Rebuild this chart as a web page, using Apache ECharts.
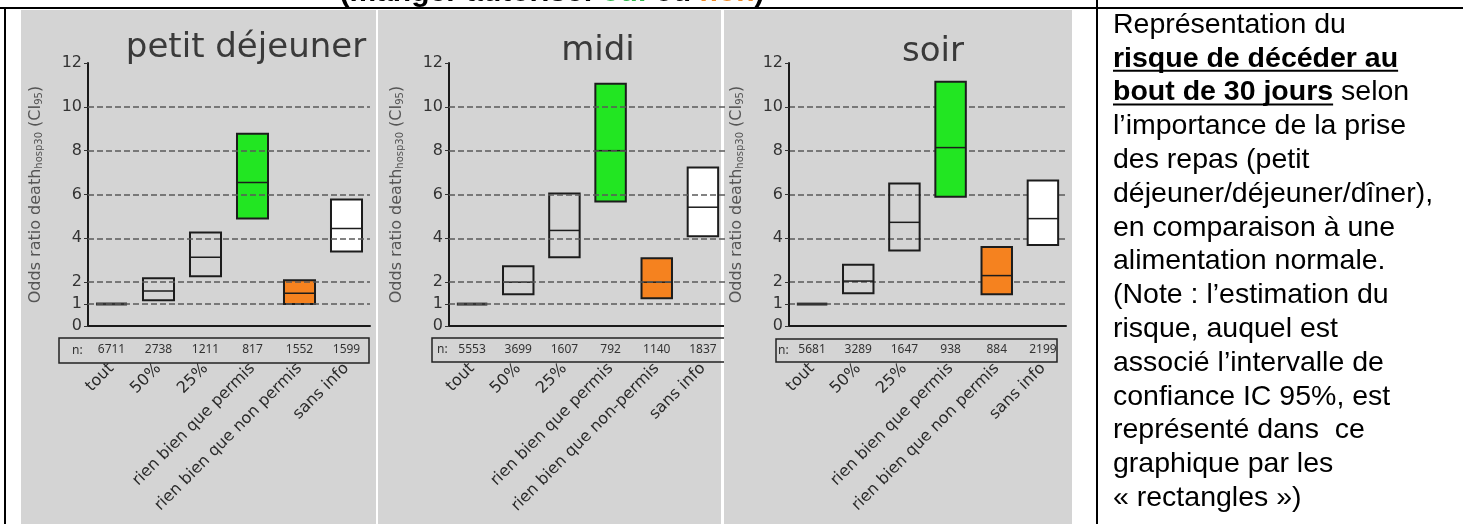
<!DOCTYPE html>
<html>
<head>
<meta charset="utf-8">
<script src="https://cdn.jsdelivr.net/npm/echarts@6/dist/echarts.min.js"></script>
<style>
  html, body { margin: 0; background: #fff; }
  #chart { width: 1463px; height: 524px; }
</style>
</head>
<body>
<div id="chart"></div>
<script>
// données
const titles = ['petit déjeuner', 'midi', 'soir'];
const catsPetit = ['tout', '50%', '25%', 'rien bien que permis', 'rien bien que non permis', 'sans info'];
const catsMidi = ['tout', '50%', '25%', 'rien bien que permis', 'rien bien que non-permis', 'sans info'];
const catsSoir = ['tout', '50%', '25%', 'rien bien que permis', 'rien bien que non permis', 'sans info'];

const nPetit = [6711, 2738, 1211, 817, 1552, 1599];
const nMidi = [5553, 3699, 1607, 792, 1140, 1837];
const nSoir = [5681, 3289, 1647, 938, 884, 2199];

// odds ratio : borne basse, estimation, borne haute (IC 95%)
const lowPetit = [1, 1.18, 2.27, 4.9, 1.0, 3.4];
const medPetit = [1, 1.6, 3.14, 6.55, 1.5, 4.45];
const highPetit = [1, 2.18, 4.27, 8.77, 2.09, 5.77];

const lowMidi = [1, 1.45, 3.14, 5.68, 1.27, 4.1];
const medMidi = [1, 2.0, 4.36, 8.0, 2.0, 5.42];
const highMidi = [1, 2.73, 6.05, 11.05, 3.09, 7.23];

const lowSoir = [1, 1.5, 3.45, 5.9, 1.45, 3.7];
const medSoir = [1, 2.05, 4.73, 8.14, 2.3, 4.9];
const highSoir = [1, 2.8, 6.5, 11.14, 3.6, 6.64];

const yTicks = [0, 1, 2, 4, 6, 8, 10, 12];
const gridLevels = [1, 2, 4, 6, 8, 10];
const fillColors = ['transparent', 'transparent', 'transparent', '#22e622', '#f5821f', '#ffffff'];

const noteLines = [
  '{n|Représentation du}',
  '{b|risque de décéder au}',
  '{b|bout de 30 jours}{n| selon}',
  '{n|l’importance de la prise}',
  '{n|des repas (petit}',
  '{n|déjeuner/déjeuner/dîner),}',
  '{n|en comparaison à une}',
  '{n|alimentation normale.}',
  '{n|(Note : l’estimation du}',
  '{n|risque, auquel est}',
  '{n|associé l’intervalle de}',
  '{n|confiance IC 95%, est}',
  '{n|représenté dans  ce}',
  '{n|graphique par les}',
  '{n|« rectangles »)}'
];
const underlined = { 1: 'risque de décéder au', 2: 'bout de 30 jours' };

const panels = [
  { cats: catsPetit, n: nPetit, low: lowPetit, med: medPetit, high: highPetit },
  { cats: catsMidi, n: nMidi, low: lowMidi, med: medMidi, high: highMidi },
  { cats: catsSoir, n: nSoir, low: lowSoir, med: medSoir, high: highSoir }
];

// mise en page
const gridLeft = [88, 449, 789];
const gridWidth = [282, 277, 277];
const titleX = [246, 598, 933];
const titleTop = [31, 34, 35];
const bgRects = [[21, 10, 355, 514], [378, 10, 343, 514], [724, 10, 348, 514]];
const nBoxes = [[59, 338, 310, 25], [432, 338, 300, 24], [776, 339, 281, 23]];
const nLabelX = [72, 437, 778];

function renderBox(params, api) {
  const i = api.value(0);
  const lo = api.coord([i, api.value(1)]);
  const md = api.coord([i, api.value(2)]);
  const hi = api.coord([i, api.value(3)]);
  const w = api.size([1, 0])[0] * 0.66;
  const x0 = md[0] - w / 2;
  if (api.value(1) === api.value(3)) {
    return {
      type: 'line',
      shape: { x1: x0, y1: md[1], x2: x0 + w, y2: md[1] },
      style: { stroke: '#333', lineWidth: 3 }
    };
  }
  return {
    type: 'group',
    children: [
      {
        type: 'rect',
        shape: { x: x0, y: hi[1], width: w, height: lo[1] - hi[1] },
        style: { fill: fillColors[params.dataIndex], stroke: '#1c1c1c', lineWidth: 2 }
      },
      {
        type: 'line',
        shape: { x1: x0, y1: md[1], x2: x0 + w, y2: md[1] },
        style: { stroke: '#1c1c1c', lineWidth: 1.5 }
      }
    ]
  };
}

const grid = [], xAxis = [], yAxis = [], series = [], title = [];
panels.forEach((p, k) => {
  const front = k === 2;  // le panneau "soir" recouvre le bord du panneau "midi"
  grid.push({ left: gridLeft[k], width: gridWidth[k], top: 63, height: 263 });
  title.push({
    text: titles[k], left: titleX[k], top: titleTop[k], textAlign: 'center', padding: 0,
    textStyle: { fontFamily: 'DejaVu Sans', fontSize: 34, fontWeight: 'normal', color: '#3a3a3a' }
  });
  xAxis.push({
    type: 'category', gridIndex: k, data: p.cats, z: front ? 6 : 0,
    axisLine: { lineStyle: { color: '#1a1a1a', width: 2 } },
    axisTick: { alignWithLabel: true, length: 5, lineStyle: { color: '#333', width: 1.5 } },
    axisLabel: { rotate: 45, interval: 0, margin: 40, fontSize: 16, color: '#2a2a2a', fontFamily: 'DejaVu Sans' }
  });
  xAxis.push({
    type: 'category', gridIndex: k, data: p.n.map(String), position: 'bottom', z: front ? 6 : 0,
    axisLine: { show: false }, axisTick: { show: false },
    axisLabel: { interval: 0, margin: 18, fontSize: 12, color: '#333', fontFamily: 'Noto Sans' }
  });
  yAxis.push({
    type: 'value', gridIndex: k, min: 0, max: 12, z: front ? 6 : 0,
    axisLine: { show: true, lineStyle: { color: '#1a1a1a', width: 2 } },
    axisTick: { show: true, length: 4, customValues: yTicks, lineStyle: { color: '#333' } },
    axisLabel: { customValues: yTicks, fontSize: 16, color: '#333', margin: 6, fontFamily: 'DejaVu Sans' },
    splitLine: { show: false },
    name: '{a|Odds ratio death}{s|hosp30}{a| (CI}{s|95}{a|)}',
    nameLocation: 'middle', nameGap: 44, nameRotate: 90,
    nameTextStyle: {
      rich: {
        a: { fontSize: 16, color: '#555', fontFamily: 'DejaVu Sans' },
        s: { fontSize: 10, color: '#555', fontFamily: 'DejaVu Sans', verticalAlign: 'bottom' }
      }
    }
  });
  series.push({
    type: 'line', xAxisIndex: 2 * k, yAxisIndex: k, data: [], z: front ? 7 : 1, silent: true,
    markLine: {
      silent: true, symbol: ['none', 'none'], label: { show: false },
      lineStyle: { color: '#5a5a5a', width: 1.5, type: [6, 3] },
      data: gridLevels.map(v => ({ yAxis: v }))
    }
  });
  series.push({
    type: 'custom', xAxisIndex: 2 * k, yAxisIndex: k, z: front ? 8 : 3, silent: true,
    renderItem: renderBox,
    encode: { x: 0, y: [1, 2, 3] },
    data: p.cats.map((c, i) => [i, p.low[i], p.med[i], p.high[i]])
  });
});

// graphiques annexes : fonds, cadre du tableau, texte de droite
const graphic = [];
bgRects.forEach((r, k) => {
  graphic.push({
    type: 'rect', z: k === 2 ? 5 : -10, silent: true,
    shape: { x: r[0], y: r[1], width: r[2], height: r[3] }, style: { fill: '#d4d4d4' }
  });
});
nBoxes.forEach((r, k) => {
  graphic.push({
    type: 'rect', z: k === 2 ? 6 : 1, silent: true,
    shape: { x: r[0], y: r[1], width: r[2], height: r[3] },
    style: { fill: 'transparent', stroke: '#222', lineWidth: 1.5 }
  });
  graphic.push({
    type: 'text', z: k === 2 ? 6 : 1, silent: true, x: nLabelX[k], y: r[1] + r[3] / 2,
    style: { text: 'n:', font: '12px "Noto Sans"', fill: '#333', verticalAlign: 'middle' }
  });
});
// cadre du tableau
graphic.push({ type: 'line', z: 10, shape: { x1: 0, y1: 8, x2: 1463, y2: 8 }, style: { stroke: '#000', lineWidth: 2 } });
graphic.push({ type: 'line', z: 10, shape: { x1: 5, y1: 8, x2: 5, y2: 524 }, style: { stroke: '#000', lineWidth: 2 } });
graphic.push({ type: 'line', z: 10, shape: { x1: 1097, y1: 0, x2: 1097, y2: 524 }, style: { stroke: '#000', lineWidth: 2 } });
graphic.push({
  type: 'text', z: 10, x: 552, y: 8,
  style: {
    text: '{b|(manger autorisé: }{g|oui}{b| ou }{o|non}{b|)}',
    align: 'center', verticalAlign: 'bottom',
    rich: {
      b: { font: 'bold 30px "Liberation Sans"', fill: '#000' },
      g: { font: 'bold 30px "Liberation Sans"', fill: '#2eb84a' },
      o: { font: 'bold 30px "Liberation Sans"', fill: '#f08a24' }
    }
  }
});

const ctx = document.createElement('canvas').getContext('2d');
ctx.font = 'bold 28.5px "Liberation Sans"';
noteLines.forEach((t, i) => {
  const cy = 25 + i * 33.8;
  graphic.push({
    type: 'text', z: 10, x: 1113, y: cy,
    style: {
      text: t, verticalAlign: 'middle',
      rich: {
        n: { font: '28.5px "Liberation Sans"', fill: '#000' },
        b: { font: 'bold 28.5px "Liberation Sans"', fill: '#000' }
      }
    }
  });
  if (underlined[i]) {
    const w = ctx.measureText(underlined[i]).width;
    graphic.push({
      type: 'line', z: 10, shape: { x1: 1113, y1: cy + 12, x2: 1113 + w, y2: cy + 12 },
      style: { stroke: '#000', lineWidth: 2 }
    });
  }
});

const chart = echarts.init(document.getElementById('chart'));
chart.setOption({
  animation: false,
  backgroundColor: '#ffffff',
  title: title,
  grid: grid,
  xAxis: xAxis,
  yAxis: yAxis,
  series: series,
  graphic: graphic
});
</script>
</body>
</html>
